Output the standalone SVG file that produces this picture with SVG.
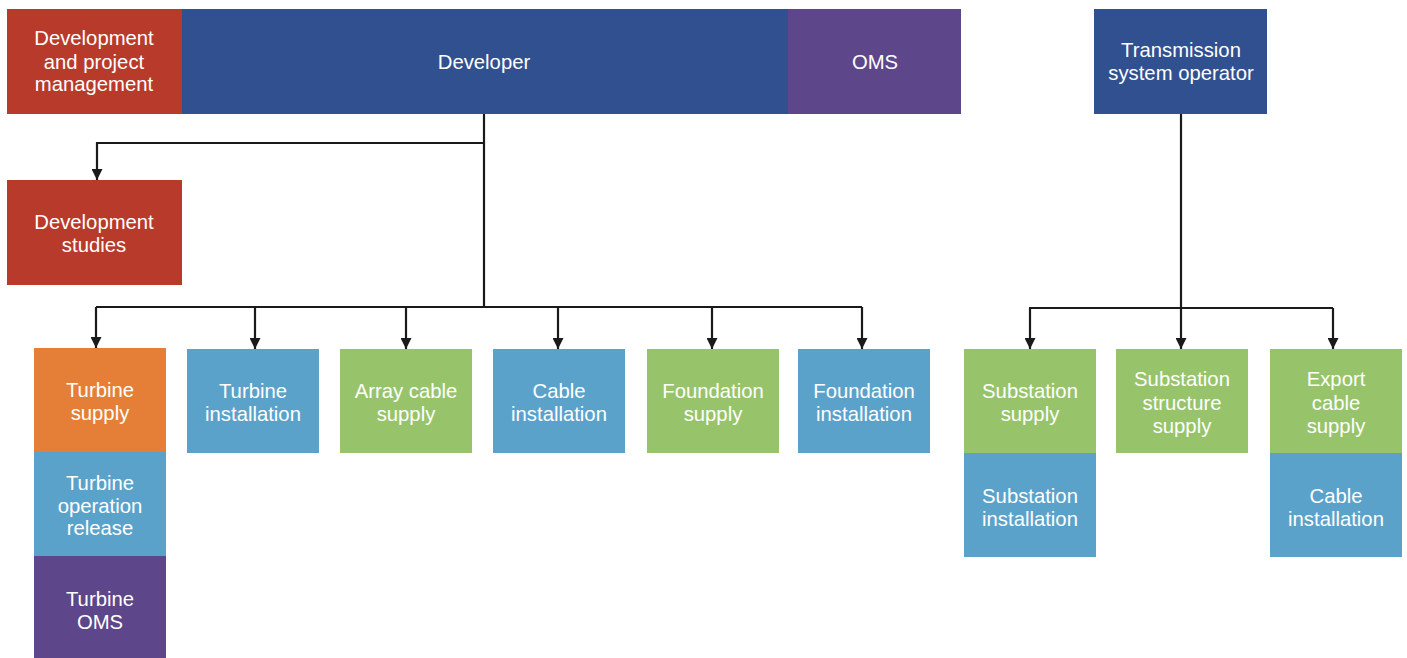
<svg xmlns="http://www.w3.org/2000/svg" width="1407" height="658" viewBox="0 0 1407 658">
<style>
text{font-family:"Liberation Sans",Arial,sans-serif;font-size:20.3px;fill:#fff;text-anchor:middle}
.red{fill:#B83A2B}.navy{fill:#31508F}.purple{fill:#5D4689}.orange{fill:#E57F37}.lblue{fill:#5BA2CB}.green{fill:#97C46B}
.c{fill:none;stroke:#1a1a1a;stroke-width:2.2}
</style>
<defs>
<marker id="ah" viewBox="0 0 10 10" refX="10" refY="5" markerWidth="5" markerHeight="5" orient="auto" markerUnits="strokeWidth">
<path d="M0,0 L10,5 L0,10 z" fill="#1a1a1a"/>
</marker>
</defs>
<rect width="1407" height="658" fill="#fff"/>
<g id="connectors">
<path class="c" d="M484,114 V307"/>
<path class="c" d="M484,143 H97 V180" marker-end="url(#ah)"/>
<path class="c" d="M96,307 H862"/>
<path class="c" d="M96,307 V348" marker-end="url(#ah)"/>
<path class="c" d="M255,307 V349" marker-end="url(#ah)"/>
<path class="c" d="M406,307 V349" marker-end="url(#ah)"/>
<path class="c" d="M558,307 V349" marker-end="url(#ah)"/>
<path class="c" d="M712,307 V349" marker-end="url(#ah)"/>
<path class="c" d="M862,307 V349" marker-end="url(#ah)"/>
<path class="c" d="M1181,114 V349" marker-end="url(#ah)"/>
<path class="c" d="M1029,308 H1333"/>
<path class="c" d="M1030,308 V349" marker-end="url(#ah)"/>
<path class="c" d="M1333,308 V349" marker-end="url(#ah)"/>
</g>
<g id="dev-pm"><rect class="red" x="7" y="9" width="175" height="105"/><text x="94" y="45">Development</text><text x="94" y="69">and project</text><text x="94" y="91">management</text></g>
<g id="developer"><rect class="navy" x="182" y="9" width="606" height="105"/><text x="484" y="69">Developer</text></g>
<g id="oms"><rect class="purple" x="788" y="9" width="173" height="105"/><text x="875" y="69">OMS</text></g>
<g id="tso"><rect class="navy" x="1094" y="9" width="173" height="105"/><text x="1181" y="57">Transmission</text><text x="1181" y="80">system operator</text></g>
<g id="dev-studies"><rect class="red" x="7" y="180" width="175" height="105"/><text x="94" y="229">Development</text><text x="94" y="252">studies</text></g>
<g id="turbine-supply"><rect class="orange" x="34" y="348" width="132" height="104"/><text x="100" y="397">Turbine</text><text x="100" y="420">supply</text></g>
<g id="turbine-op-release"><rect class="lblue" x="34" y="452" width="132" height="104"/><text x="100" y="490">Turbine</text><text x="100" y="513">operation</text><text x="100" y="535">release</text></g>
<g id="turbine-oms"><rect class="purple" x="34" y="556" width="132" height="102"/><text x="100" y="606">Turbine</text><text x="100" y="629">OMS</text></g>
<g id="turbine-install"><rect class="lblue" x="187" y="349" width="132" height="104"/><text x="253" y="398">Turbine</text><text x="253" y="421">installation</text></g>
<g id="array-cable-supply"><rect class="green" x="340" y="349" width="132" height="104"/><text x="406" y="398">Array cable</text><text x="406" y="421">supply</text></g>
<g id="cable-install"><rect class="lblue" x="493" y="349" width="132" height="104"/><text x="559" y="398">Cable</text><text x="559" y="421">installation</text></g>
<g id="foundation-supply"><rect class="green" x="647" y="349" width="132" height="104"/><text x="713" y="398">Foundation</text><text x="713" y="421">supply</text></g>
<g id="foundation-install"><rect class="lblue" x="798" y="349" width="132" height="104"/><text x="864" y="398">Foundation</text><text x="864" y="421">installation</text></g>
<g id="substation-supply"><rect class="green" x="964" y="349" width="132" height="104"/><text x="1030" y="398">Substation</text><text x="1030" y="421">supply</text></g>
<g id="substation-install"><rect class="lblue" x="964" y="453" width="132" height="104"/><text x="1030" y="503">Substation</text><text x="1030" y="526">installation</text></g>
<g id="substation-structure-supply"><rect class="green" x="1116" y="349" width="132" height="104"/><text x="1182" y="386">Substation</text><text x="1182" y="410">structure</text><text x="1182" y="433">supply</text></g>
<g id="export-cable-supply"><rect class="green" x="1270" y="349" width="132" height="104"/><text x="1336" y="386">Export</text><text x="1336" y="410">cable</text><text x="1336" y="433">supply</text></g>
<g id="export-cable-install"><rect class="lblue" x="1270" y="453" width="132" height="104"/><text x="1336" y="503">Cable</text><text x="1336" y="526">installation</text></g>
</svg>
